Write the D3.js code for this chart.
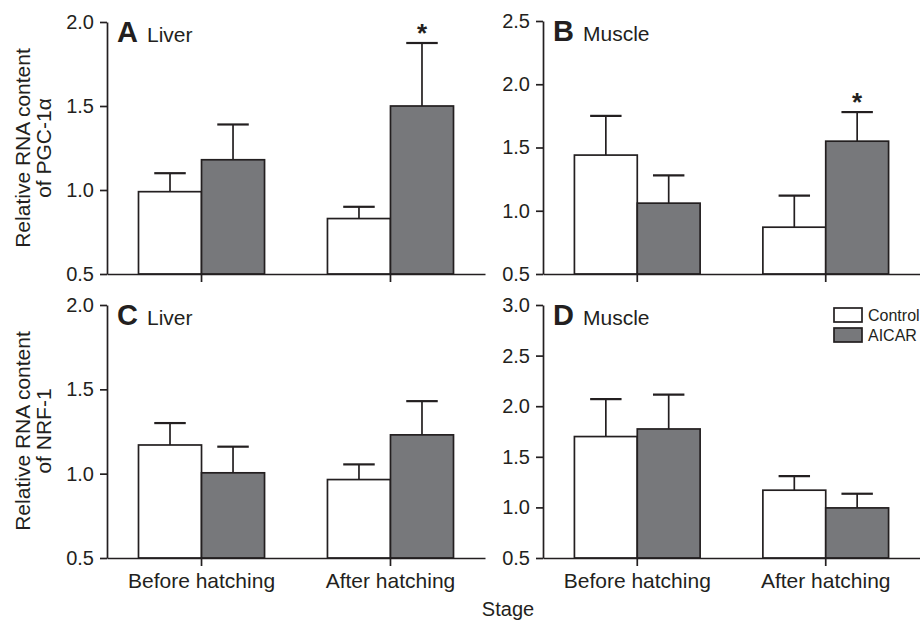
<!DOCTYPE html>
<html>
<head>
<meta charset="utf-8">
<script src="https://d3js.org/d3.v7.min.js"></script>
<style>
  body { margin: 0; background: #fff; }
  svg { display: block; font-family: "Liberation Sans", Arial, sans-serif; }
  .axis path, .axis line { stroke: #231f20; stroke-width: 1.7px; }
  .axis text { fill: #231f20; font-size: 20px; font-family: "Liberation Sans", Arial, sans-serif; }
</style>
</head>
<body>
<div id="chart"></div>
<script>
// categories
var stages = ["Before hatching", "After hatching"];
var groups = ["Control", "AICAR"];

// A: liver PGC-1a
var liverPgcControl = [0.99, 0.83];
var liverPgcControlErr = [0.11, 0.07];
var liverPgcAicar = [1.18, 1.50];
var liverPgcAicarErr = [0.21, 0.375];

// B: muscle PGC-1a
var musclePgcControl = [1.44, 0.87];
var musclePgcControlErr = [0.31, 0.25];
var musclePgcAicar = [1.06, 1.55];
var musclePgcAicarErr = [0.22, 0.23];

// C: liver NRF-1
var liverNrfControl = [1.17, 0.965];
var liverNrfControlErr = [0.13, 0.09];
var liverNrfAicar = [1.005, 1.23];
var liverNrfAicarErr = [0.155, 0.20];

// D: muscle NRF-1
var muscleNrfControl = [1.70, 1.17];
var muscleNrfControlErr = [0.37, 0.14];
var muscleNrfAicar = [1.775, 0.995];
var muscleNrfAicarErr = [0.34, 0.14];

// y tick labels
var ticksA = [0.5, 1.0, 1.5, 2.0];
var ticksB = [0.5, 1.0, 1.5, 2.0, 2.5];
var ticksC = [0.5, 1.0, 1.5, 2.0];
var ticksD = [0.5, 1.0, 1.5, 2.0, 2.5, 3.0];

// significance marks: [stage index, group index]
var starsA = [[1, 1]];
var starsB = [[1, 1]];

var w = 920, h = 622;
var ink = "#231f20";
var color = { "Control": "#ffffff", "AICAR": "#77787b" };

var svg = d3.select("#chart").append("svg")
    .attr("width", w)
    .attr("height", h);

var panels = [
  { letter: "A", tissue: "Liver", x0: 107, x1: 485, y0: 274, y1: 22, ticks: ticksA,
    control: liverPgcControl, controlErr: liverPgcControlErr, aicar: liverPgcAicar, aicarErr: liverPgcAicarErr,
    stars: starsA, xLabels: false },
  { letter: "B", tissue: "Muscle", x0: 543, x1: 920, y0: 274, y1: 21, ticks: ticksB,
    control: musclePgcControl, controlErr: musclePgcControlErr, aicar: musclePgcAicar, aicarErr: musclePgcAicarErr,
    stars: starsB, xLabels: false },
  { letter: "C", tissue: "Liver", x0: 107, x1: 485, y0: 558, y1: 305, ticks: ticksC,
    control: liverNrfControl, controlErr: liverNrfControlErr, aicar: liverNrfAicar, aicarErr: liverNrfAicarErr,
    stars: [], xLabels: true },
  { letter: "D", tissue: "Muscle", x0: 543, x1: 920, y0: 558, y1: 305, ticks: ticksD,
    control: muscleNrfControl, controlErr: muscleNrfControlErr, aicar: muscleNrfAicar, aicarErr: muscleNrfAicarErr,
    stars: [], xLabels: true }
];

panels.forEach(drawPanel);

function drawPanel(p) {
    var g = svg.append("g");

    var x = d3.scaleBand()
        .domain(stages)
        .range([p.x0, p.x1])
        .paddingInner(0.333)
        .paddingOuter(0.1667);

    var xg = d3.scaleBand()
        .domain(groups)
        .range([0, x.bandwidth()]);

    var y = d3.scaleLinear()
        .domain([p.ticks[0], p.ticks[p.ticks.length - 1]])
        .range([p.y0, p.y1]);

    var rows = [];
    stages.forEach(function(s, i) {
        rows.push({ stage: s, group: "Control", v: p.control[i], e: p.controlErr[i], si: i, gi: 0 });
        rows.push({ stage: s, group: "AICAR", v: p.aicar[i], e: p.aicarErr[i], si: i, gi: 1 });
    });

    // error bars (upper only)
    var err = g.selectAll(".err").data(rows).enter().append("g");
    err.append("line")
        .attr("x1", function(d) { return x(d.stage) + xg(d.group) + xg.bandwidth() / 2; })
        .attr("x2", function(d) { return x(d.stage) + xg(d.group) + xg.bandwidth() / 2; })
        .attr("y1", function(d) { return y(d.v); })
        .attr("y2", function(d) { return y(d.v + d.e); })
        .attr("stroke", ink).attr("stroke-width", 1.7);
    err.append("line")
        .attr("x1", function(d) { return x(d.stage) + xg(d.group) + xg.bandwidth() / 4; })
        .attr("x2", function(d) { return x(d.stage) + xg(d.group) + xg.bandwidth() * 3 / 4; })
        .attr("y1", function(d) { return y(d.v + d.e); })
        .attr("y2", function(d) { return y(d.v + d.e); })
        .attr("stroke", ink).attr("stroke-width", 2.2);

    // bars
    g.selectAll(".bar").data(rows).enter().append("rect")
        .attr("x", function(d) { return x(d.stage) + xg(d.group); })
        .attr("y", function(d) { return y(d.v); })
        .attr("width", xg.bandwidth())
        .attr("height", function(d) { return y(p.ticks[0]) - y(d.v); })
        .attr("fill", function(d) { return color[d.group]; })
        .attr("stroke", ink)
        .attr("stroke-width", 1.7);

    // stars
    p.stars.forEach(function(s) {
        var d = rows.filter(function(r) { return r.si === s[0] && r.gi === s[1]; })[0];
        g.append("text")
            .attr("x", x(d.stage) + xg(d.group) + xg.bandwidth() / 2)
            .attr("y", y(d.v + d.e) - 1)
            .attr("text-anchor", "middle")
            .attr("font-size", 26)
            .attr("font-weight", "bold")
            .attr("fill", ink)
            .text("*");
    });

    // axes
    var yAxis = d3.axisLeft(y)
        .tickValues(p.ticks)
        .tickSizeInner(7)
        .tickSizeOuter(0)
        .tickPadding(6)
        .tickFormat(d3.format(".1f"));
    g.append("g").attr("class", "axis")
        .attr("transform", "translate(" + p.x0 + ",0)")
        .call(yAxis);

    var xAxis = d3.axisBottom(x)
        .tickSizeInner(8)
        .tickSizeOuter(0)
        .tickPadding(7);
    var xa = g.append("g").attr("class", "axis")
        .attr("transform", "translate(0," + p.y0 + ")")
        .call(xAxis);
    xa.selectAll("text").style("font-size", "21px");
    if (!p.xLabels) xa.selectAll("text").remove();

    // panel title
    g.append("text")
        .attr("x", p.x0 + 10)
        .attr("y", p.y1 + 20)
        .attr("font-size", 29)
        .attr("font-weight", "bold")
        .attr("fill", ink)
        .text(p.letter);
    g.append("text")
        .attr("x", p.x0 + 40)
        .attr("y", p.y1 + 20)
        .attr("font-size", 21)
        .attr("fill", ink)
        .text(p.tissue);
}

// y axis titles
function yTitle(lines, cy) {
    var t = svg.append("text")
        .attr("transform", "translate(40," + cy + ") rotate(-90)")
        .attr("text-anchor", "middle")
        .attr("font-size", 21)
        .attr("fill", ink);
    t.selectAll("tspan").data(lines).enter().append("tspan")
        .attr("x", 0)
        .attr("y", function(d, i) { return (i - 0.5) * 21; })
        .text(function(d) { return d; });
}
yTitle(["Relative RNA content", "of PGC-1\u03b1"], 148);
yTitle(["Relative RNA content", "of NRF-1"], 431);

// x axis title
svg.append("text")
    .attr("x", 508)
    .attr("y", 616)
    .attr("text-anchor", "middle")
    .attr("font-size", 20)
    .attr("fill", ink)
    .text("Stage");

// legend
var legend = svg.append("g").attr("transform", "translate(834,308)");
var li = legend.selectAll("g").data(groups).enter().append("g")
    .attr("transform", function(d, i) { return "translate(0," + i * 20 + ")"; });
li.append("rect")
    .attr("width", 28).attr("height", 14)
    .attr("fill", function(d) { return color[d]; })
    .attr("stroke", ink).attr("stroke-width", 1.7);
li.append("text")
    .attr("x", 34).attr("y", 13)
    .attr("font-size", 16)
    .attr("fill", ink)
    .text(function(d) { return d; });
</script>
</body>
</html>
